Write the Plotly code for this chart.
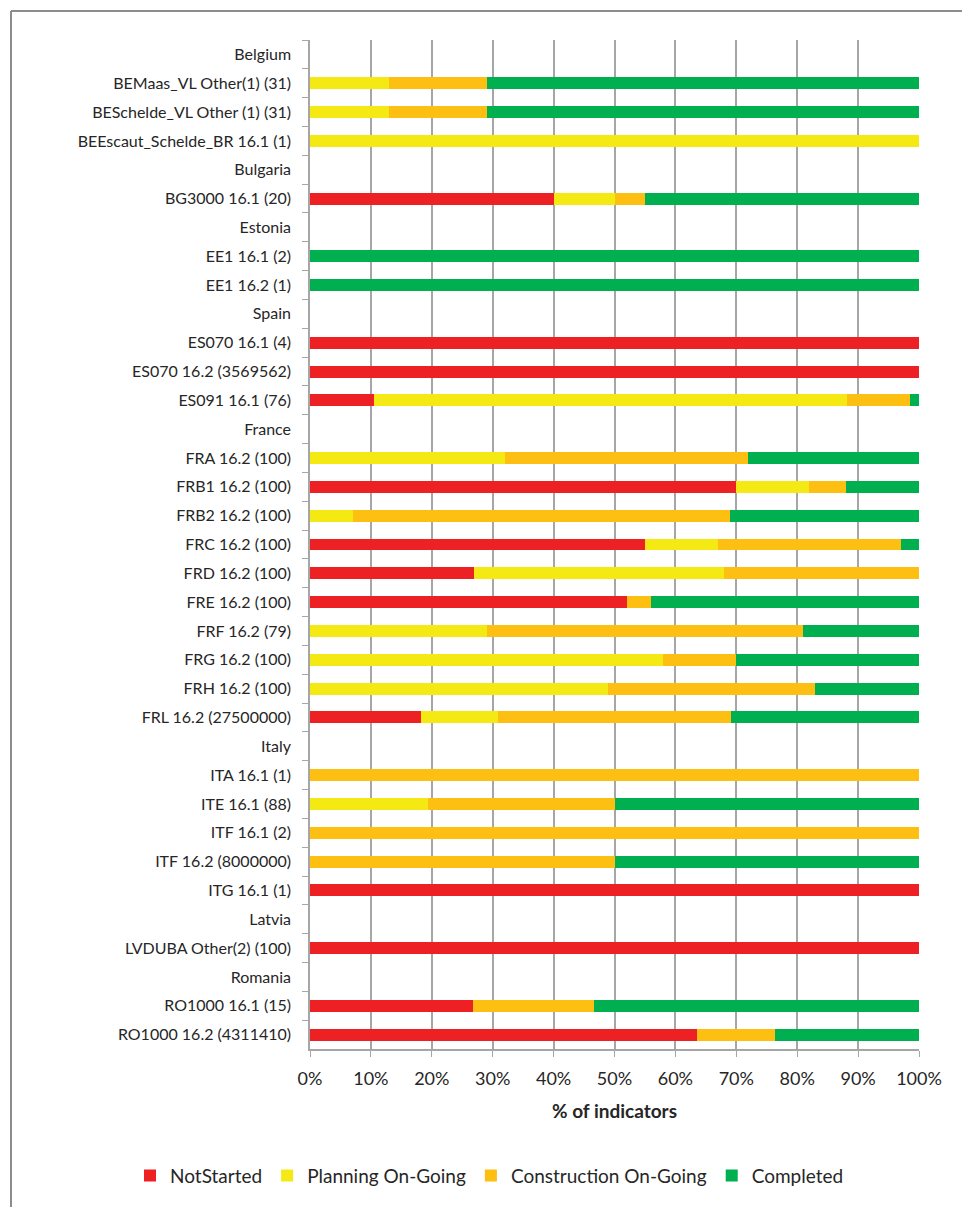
import plotly.graph_objects as go

# Row labels, top to bottom (country headers carry no bar)
categories = [
    "Belgium",
    "BEMaas_VL Other(1) (31)",
    "BESchelde_VL Other (1) (31)",
    "BEEscaut_Schelde_BR 16.1 (1)",
    "Bulgaria",
    "BG3000 16.1 (20)",
    "Estonia",
    "EE1 16.1 (2)",
    "EE1 16.2 (1)",
    "Spain",
    "ES070 16.1 (4)",
    "ES070 16.2 (3569562)",
    "ES091 16.1 (76)",
    "France",
    "FRA 16.2 (100)",
    "FRB1 16.2 (100)",
    "FRB2 16.2 (100)",
    "FRC 16.2 (100)",
    "FRD 16.2 (100)",
    "FRE 16.2 (100)",
    "FRF 16.2 (79)",
    "FRG 16.2 (100)",
    "FRH 16.2 (100)",
    "FRL 16.2 (27500000)",
    "Italy",
    "ITA 16.1 (1)",
    "ITE 16.1 (88)",
    "ITF 16.1 (2)",
    "ITF 16.2 (8000000)",
    "ITG 16.1 (1)",
    "Latvia",
    "LVDUBA Other(2) (100)",
    "Romania",
    "RO1000 16.1 (15)",
    "RO1000 16.2 (4311410)",
]

# Share of indicators (%) per status
not_started = [None, 0, 0, 0, None, 40, None, 0, 0, None, 100, 100, 10.5, None,
               0, 70, 0, 55, 27, 52, 0, 0, 0, 18.2, None,
               0, 0, 0, 0, 100, None, 100, None, 26.7, 63.5]
planning = [None, 12.9, 12.9, 100, None, 10, None, 0, 0, None, 0, 0, 77.6, None,
            32, 12, 7, 12, 41, 0, 29.1, 58, 49, 12.6, None,
            0, 19.3, 0, 0, 0, None, 0, None, 0, 0]
construction = [None, 16.1, 16.1, 0, None, 5, None, 0, 0, None, 0, 0, 10.5, None,
                40, 6, 62, 30, 32, 4, 51.9, 12, 34, 38.4, None,
                100, 30.7, 100, 50, 0, None, 0, None, 20, 12.8]
completed = [None, 71, 71, 0, None, 45, None, 100, 100, None, 0, 0, 1.4, None,
             28, 12, 31, 3, 0, 44, 19, 30, 17, 30.8, None,
             0, 50, 0, 50, 0, None, 0, None, 53.3, 23.7]

series_names = ["NotStarted", "Planning On-Going", "Construction On-Going", "Completed"]
series_values = [not_started, planning, construction, completed]
series_colors = ["#ED2024", "#F5E914", "#FDBF12", "#00B050"]

FONT = "Lato, sans-serif"
TEXT = "#262626"
GRID = "#A6A6A6"

fig = go.Figure()
for name, vals, color in zip(series_names, series_values, series_colors):
    fig.add_trace(go.Bar(
        name=name,
        y=categories,
        x=[None if v is None else v / 100 for v in vals],
        orientation="h",
        marker=dict(color=color, line=dict(width=0)),
        hoverinfo="skip",
    ))

# plot-area geometry in pixels, used to place the outer frame and legend
W, H = 962, 1207
L, R, T, B = 310, 43, 40, 155
pw, ph = W - L - R, H - T - B


def px_x(x):
    return (x - L) / pw


def px_y(y):
    return (H - B - y) / ph


frame = dict(color="#8C8C8C", width=2)
shapes = [
    dict(type="line", xref="paper", yref="paper",
         x0=px_x(11), x1=px_x(W + 50), y0=px_y(11), y1=px_y(11), line=frame),
    dict(type="line", xref="paper", yref="paper",
         x0=px_x(11), x1=px_x(11), y0=px_y(11), y1=px_y(H + 50), line=frame),
]

fig.update_layout(
    width=W, height=H,
    margin=dict(l=L, r=R, t=T, b=B),
    barmode="stack",
    bargap=0.585,
    plot_bgcolor="white",
    paper_bgcolor="white",
    font=dict(family=FONT, size=16, color=TEXT),
    shapes=shapes,
    legend=dict(
        orientation="h",
        x=px_x(130), xanchor="left",
        y=px_y(1179), yanchor="middle",
        font=dict(size=19, color=TEXT),
        traceorder="normal",
        itemwidth=30,
    ),
    xaxis=dict(
        range=[0, 1],
        dtick=0.1,
        tickformat=".0%",
        showgrid=True,
        gridcolor=GRID,
        gridwidth=1.5,
        showline=True,
        linecolor=GRID,
        linewidth=1.5,
        ticks="outside",
        ticklen=6,
        tickcolor=GRID,
        tickfont=dict(size=18, color=TEXT),
        ticklabelstandoff=7,
        zeroline=False,
        title=dict(text="<b>% of indicators</b>", font=dict(size=19, color=TEXT), standoff=16),
    ),
    yaxis=dict(
        type="category",
        categoryorder="array",
        categoryarray=categories,
        autorange="reversed",
        showline=True,
        linecolor=GRID,
        linewidth=1.5,
        ticks="outside",
        tickson="boundaries",
        ticklen=6,
        tickcolor=GRID,
        ticklabelstandoff=14,
        tickfont=dict(size=16, color=TEXT),
        showgrid=False,
    ),
)

fig.write_html("out.html")
